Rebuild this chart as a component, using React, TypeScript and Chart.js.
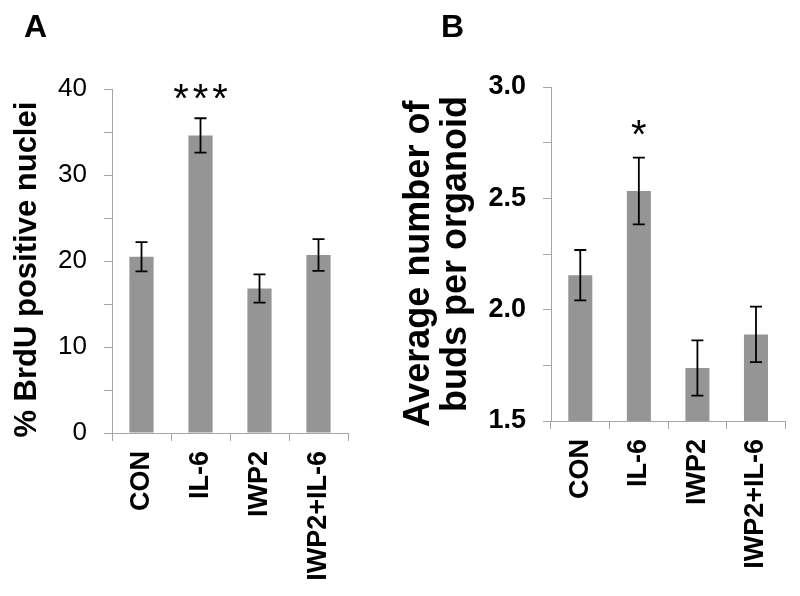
import React, { useEffect, useRef } from 'react';
import { Chart, registerables } from 'chart.js';

Chart.register(...registerables);

const categories = ['CON', 'IL-6', 'IWP2', 'IWP2+IL-6'];

const brduValues = [20.5, 34.6, 16.8, 20.7];
const brduErrors = [1.7, 2.0, 1.65, 1.85];
const brduSignificance = ['', '***', '', ''];
const brduTickLabels = [0, 10, 20, 30, 40];

const budsValues = [2.155, 2.533, 1.738, 1.889];
const budsErrors = [0.113, 0.15, 0.124, 0.125];
const budsSignificance = ['', '*', '', ''];
const budsTickLabels = [1.5, 2.0, 2.5, 3.0];

const FONT = '"Liberation Sans", Arial, Helvetica, sans-serif';
const AXIS_GRAY = '#a6a6a6';
const BAR_GRAY = '#959595';

const errorBarPlugin = {
  id: 'errorBars',
  afterDatasetsDraw(chart: any, _args: any, opts: any) {
    const { ctx } = chart;
    const meta = chart.getDatasetMeta(0);
    const ds = chart.data.datasets[0];
    const yScale = chart.scales.y;
    ctx.save();
    ctx.strokeStyle = '#000';
    ctx.lineWidth = 1.8;
    meta.data.forEach((bar: any, i: number) => {
      const v = ds.data[i] as number;
      const e = opts.errors[i];
      const x = bar.x;
      const yt = yScale.getPixelForValue(v + e);
      const yb = yScale.getPixelForValue(v - e);
      ctx.beginPath();
      ctx.moveTo(x, yt);
      ctx.lineTo(x, yb);
      ctx.moveTo(x - opts.cap, yt);
      ctx.lineTo(x + opts.cap, yt);
      ctx.moveTo(x - opts.cap, yb);
      ctx.lineTo(x + opts.cap, yb);
      ctx.stroke();
      const s = opts.significance[i];
      if (s) {
        ctx.fillStyle = '#000';
        ctx.font = opts.sigFont;
        ctx.textAlign = 'center';
        ctx.textBaseline = 'alphabetic';
        try {
          (ctx as any).letterSpacing = s.length > 1 ? '4px' : '0px';
        } catch (err) {}
        const shift = s.length > 1 ? 2 : 0;
        ctx.fillText(s, x + shift, yt - opts.sigGap);
      }
    });
    ctx.restore();
  },
};

type PanelCfg = {
  values: number[];
  errors: number[];
  significance: string[];
  tickLabels: number[];
  min: number;
  max: number;
  step: number;
  decimals: number;
  yTickFont: any;
  title: string | string[];
  titleFont: any;
  titlePadding: number;
  yWidth: number;
  top: number;
  right: number;
  bottom: number;
  sigGap: number;
};

function buildChart(canvas: HTMLCanvasElement, c: PanelCfg) {
  return new Chart(canvas, {
    type: 'bar',
    data: {
      labels: categories,
      datasets: [
        {
          data: c.values,
          backgroundColor: BAR_GRAY,
          borderWidth: 0,
          barPercentage: 0.41,
          categoryPercentage: 1,
        },
      ],
    },
    plugins: [errorBarPlugin as any],
    options: {
      responsive: false,
      animation: false,
      devicePixelRatio: 1,
      layout: { padding: { top: c.top, right: c.right, left: 0, bottom: 0 } },
      plugins: {
        legend: { display: false },
        tooltip: { enabled: false },
        errorBars: {
          errors: c.errors,
          significance: c.significance,
          cap: 6,
          sigFont: `40px ${FONT}`,
          sigGap: c.sigGap,
        },
      } as any,
      scales: {
        x: {
          offset: true,
          grid: {
            offset: true,
            drawOnChartArea: false,
            drawTicks: true,
            tickLength: 8,
            color: AXIS_GRAY,
          },
          border: { display: true, color: AXIS_GRAY, width: 1 },
          ticks: {
            color: '#000',
            font: { family: FONT, size: 27, weight: 'bold' },
            minRotation: 90,
            maxRotation: 90,
            autoSkip: false,
            padding: 10,
          },
          afterFit: (scale: any) => {
            scale.height = 596 - c.bottom;
          },
        },
        y: {
          min: c.min,
          max: c.max,
          grid: {
            drawOnChartArea: false,
            drawTicks: true,
            tickLength: 8,
            color: AXIS_GRAY,
          },
          border: { display: true, color: AXIS_GRAY, width: 1 },
          ticks: {
            stepSize: c.step,
            color: '#000',
            font: c.yTickFont,
            padding: 17,
            callback: (val: any) => {
              const v = Number(val);
              const hit = c.tickLabels.some((t) => Math.abs(t - v) < 1e-6);
              return hit ? v.toFixed(c.decimals) : '';
            },
          },
          title: {
            display: true,
            text: c.title,
            color: '#000',
            font: c.titleFont,
            padding: { top: c.titlePadding, bottom: 0 },
          },
          afterFit: (scale: any) => {
            scale.width = c.yWidth;
          },
        },
      },
    },
  });
}

function Panel({ cfg, left }: { cfg: PanelCfg; left: number }) {
  const ref = useRef<HTMLCanvasElement>(null);
  useEffect(() => {
    if (!ref.current) return;
    const ch = buildChart(ref.current, cfg);
    return () => ch.destroy();
  }, []);
  return (
    <canvas
      ref={ref}
      width={400}
      height={596}
      style={{ position: 'absolute', left, top: 0, width: 400, height: 596 }}
    />
  );
}

const panelA: PanelCfg = {
  values: brduValues,
  errors: brduErrors,
  significance: brduSignificance,
  tickLabels: brduTickLabels,
  min: 0,
  max: 40,
  step: 5,
  decimals: 0,
  yTickFont: { family: FONT, size: 26, weight: 'normal' },
  title: '% BrdU positive nuclei  ',
  titleFont: { family: FONT, size: 31, weight: 'bold' },
  titlePadding: 9,
  yWidth: 112,
  top: 89,
  right: 52,
  bottom: 433,
  sigGap: 6,
};

const panelB: PanelCfg = {
  values: budsValues,
  errors: budsErrors,
  significance: budsSignificance,
  tickLabels: budsTickLabels,
  min: 1.5,
  max: 3.0,
  step: 0.25,
  decimals: 1,
  yTickFont: { family: FONT, size: 27, weight: 'bold' },
  title: ['Average number of  ', 'buds per organoid'],
  titleFont: { family: FONT, size: 36, weight: 'bold', lineHeight: 1.02 },
  titlePadding: 1,
  yWidth: 151,
  top: 87,
  right: 13,
  bottom: 421,
  sigGap: 10,
};

export default function App() {
  const labelStyle: React.CSSProperties = {
    position: 'absolute',
    fontFamily: FONT,
    fontWeight: 'bold',
    fontSize: 32,
    lineHeight: 1,
    color: '#000',
    margin: 0,
  };
  return (
    <div
      style={{
        position: 'absolute',
        left: 0,
        top: 0,
        width: 800,
        height: 596,
        background: '#fff',
        overflow: 'hidden',
      }}
    >
      <Panel cfg={panelA} left={0} />
      <Panel cfg={panelB} left={400} />
      <div style={{ ...labelStyle, left: 24, top: 10 }}>A</div>
      <div style={{ ...labelStyle, left: 441, top: 10 }}>B</div>
    </div>
  );
}
